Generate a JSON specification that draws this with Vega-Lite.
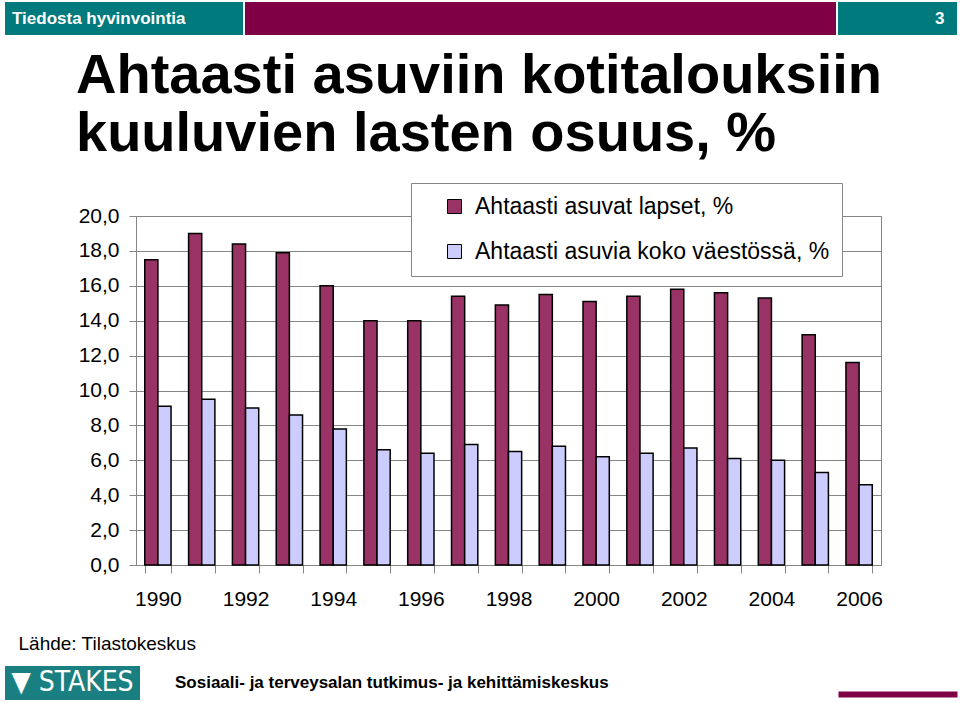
{
  "$schema": "https://vega.github.io/schema/vega-lite/v6.json",
  "background": "white",
  "padding": {"left": 5, "top": 2, "right": 3, "bottom": 2},
  "spacing": 12,
  "config": {
    "font": "Liberation Sans",
    "view": {"stroke": null},
    "concat": {"spacing": 0}
  },
  "vconcat": [
    {
      "spacing": 2,
      "hconcat": [
        {
          "width": 238, "height": 33,
          "view": {"fill": "#007A7D", "stroke": null},
          "data": {"values": [{"t": "Tiedosta hyvinvointia"}]},
          "mark": {"type": "text", "align": "left", "baseline": "middle", "dx": -112, "color": "white", "fontWeight": "bold", "fontSize": 17, "font": "Liberation Sans"},
          "encoding": {"text": {"field": "t"}}
        },
        {
          "width": 591, "height": 33,
          "view": {"fill": "#800046", "stroke": null},
          "data": {"values": [{"t": ""}]},
          "mark": {"type": "text"},
          "encoding": {"text": {"field": "t"}}
        },
        {
          "width": 119, "height": 33,
          "view": {"fill": "#007A7D", "stroke": null},
          "data": {"values": [{"t": "3"}]},
          "mark": {"type": "text", "align": "right", "baseline": "middle", "dx": 47, "color": "white", "fontWeight": "bold", "fontSize": 17, "font": "Liberation Sans"},
          "encoding": {"text": {"field": "t"}}
        }
      ]
    },
    {
      "spacing": 0,
      "hconcat": [
        {
          "width": 12, "height": 1,
          "data": {"values": [{"t": ""}]},
          "mark": {"type": "text"},
          "encoding": {"text": {"field": "t"}}
        },
        {
          "width": 745, "height": 349,
          "view": {"stroke": "#868686", "strokeWidth": 1},
          "title": {
            "text": ["Ahtaasti asuviin kotitalouksiin", "kuuluvien lasten osuus, %"],
            "anchor": "start", "frame": "group", "dx": -60,
            "font": "Liberation Sans", "fontSize": 56, "fontWeight": "bold", "color": "black",
            "lineHeight": 58, "offset": 42
          },
          "data": {"values": [
            {"year": 1990, "series": "Ahtaasti asuvat lapset, %", "value": 17.5},
            {"year": 1991, "series": "Ahtaasti asuvat lapset, %", "value": 19.0},
            {"year": 1992, "series": "Ahtaasti asuvat lapset, %", "value": 18.4},
            {"year": 1993, "series": "Ahtaasti asuvat lapset, %", "value": 17.9},
            {"year": 1994, "series": "Ahtaasti asuvat lapset, %", "value": 16.0},
            {"year": 1995, "series": "Ahtaasti asuvat lapset, %", "value": 14.0},
            {"year": 1996, "series": "Ahtaasti asuvat lapset, %", "value": 14.0},
            {"year": 1997, "series": "Ahtaasti asuvat lapset, %", "value": 15.4},
            {"year": 1998, "series": "Ahtaasti asuvat lapset, %", "value": 14.9},
            {"year": 1999, "series": "Ahtaasti asuvat lapset, %", "value": 15.5},
            {"year": 2000, "series": "Ahtaasti asuvat lapset, %", "value": 15.1},
            {"year": 2001, "series": "Ahtaasti asuvat lapset, %", "value": 15.4},
            {"year": 2002, "series": "Ahtaasti asuvat lapset, %", "value": 15.8},
            {"year": 2003, "series": "Ahtaasti asuvat lapset, %", "value": 15.6},
            {"year": 2004, "series": "Ahtaasti asuvat lapset, %", "value": 15.3},
            {"year": 2005, "series": "Ahtaasti asuvat lapset, %", "value": 13.2},
            {"year": 2006, "series": "Ahtaasti asuvat lapset, %", "value": 11.6},
            {"year": 1990, "series": "Ahtaasti asuvia koko väestössä, %", "value": 9.1},
            {"year": 1991, "series": "Ahtaasti asuvia koko väestössä, %", "value": 9.5},
            {"year": 1992, "series": "Ahtaasti asuvia koko väestössä, %", "value": 9.0},
            {"year": 1993, "series": "Ahtaasti asuvia koko väestössä, %", "value": 8.6},
            {"year": 1994, "series": "Ahtaasti asuvia koko väestössä, %", "value": 7.8},
            {"year": 1995, "series": "Ahtaasti asuvia koko väestössä, %", "value": 6.6},
            {"year": 1996, "series": "Ahtaasti asuvia koko väestössä, %", "value": 6.4},
            {"year": 1997, "series": "Ahtaasti asuvia koko väestössä, %", "value": 6.9},
            {"year": 1998, "series": "Ahtaasti asuvia koko väestössä, %", "value": 6.5},
            {"year": 1999, "series": "Ahtaasti asuvia koko väestössä, %", "value": 6.8},
            {"year": 2000, "series": "Ahtaasti asuvia koko väestössä, %", "value": 6.2},
            {"year": 2001, "series": "Ahtaasti asuvia koko väestössä, %", "value": 6.4},
            {"year": 2002, "series": "Ahtaasti asuvia koko väestössä, %", "value": 6.7},
            {"year": 2003, "series": "Ahtaasti asuvia koko väestössä, %", "value": 6.1},
            {"year": 2004, "series": "Ahtaasti asuvia koko väestössä, %", "value": 6.0},
            {"year": 2005, "series": "Ahtaasti asuvia koko väestössä, %", "value": 5.3},
            {"year": 2006, "series": "Ahtaasti asuvia koko väestössä, %", "value": 4.6}
          ]},
          "mark": {"type": "bar", "stroke": "black", "strokeWidth": 1.5},
          "encoding": {
            "x": {
              "field": "year", "type": "ordinal",
              "scale": {"paddingInner": 0.4, "paddingOuter": 0.2},
              "axis": {
                "title": null, "labelAngle": 0, "grid": false,
                "tickBand": "extent", "tickSize": 8, "tickColor": "#868686",
                "domainColor": "#868686",
                "labelExpr": "datum.value % 2 == 0 ? datum.label : ''",
                "labelFont": "Liberation Sans", "labelFontSize": 21, "labelColor": "black",
                "labelPadding": 15
              }
            },
            "xOffset": {"field": "series", "sort": ["Ahtaasti asuvat lapset, %", "Ahtaasti asuvia koko väestössä, %"]},
            "y": {
              "field": "value", "type": "quantitative",
              "scale": {"domain": [0, 20], "nice": false},
              "axis": {
                "values": [0, 2, 4, 6, 8, 10, 12, 14, 16, 18, 20],
                "labelExpr": "replace(format(datum.value, '.1f'), '.', ',')",
                "labelFont": "Liberation Sans", "labelFontSize": 21, "labelColor": "black",
                "labelPadding": 10, "tickSize": 7, "tickColor": "#868686",
                "domainColor": "#868686", "grid": true, "gridColor": "#868686",
                "title": "Lähde: Tilastokeskus", "titleAngle": 0, "titleX": -118, "titleY": 427,
                "titleAlign": "left", "titleBaseline": "middle",
                "titleFont": "Liberation Sans", "titleFontSize": 19, "titleFontWeight": "normal", "titleColor": "black"
              }
            },
            "color": {
              "field": "series", "type": "nominal",
              "scale": {"domain": ["Ahtaasti asuvat lapset, %", "Ahtaasti asuvia koko väestössä, %"], "range": ["#993366", "#CCCCFF"]},
              "legend": {
                "title": null, "orient": "none", "legendX": 406, "legendY": 181,
                "strokeColor": "#868686", "fillColor": "white", "padding": 12,
                "symbolType": "square", "symbolSize": 196, "symbolStrokeColor": "black", "symbolStrokeWidth": 1,
                "symbolOffset": 20,
                "labelFont": "Liberation Sans", "labelFontSize": 23, "labelColor": "black", "labelOffset": 9,
                "rowPadding": 21, "labelLimit": 500
              }
            }
          }
        }
      ]
    },
    {
      "spacing": 0,
      "hconcat": [
        {
          "width": 135, "height": 34,
          "view": {"fill": "#1A7F80", "stroke": null},
          "data": {"values": [{"t": "▼ STAKES"}]},
          "mark": {"type": "text", "align": "center", "baseline": "middle", "color": "white", "fontSize": 28, "font": "Liberation Sans Narrow, DejaVu Sans Condensed, Liberation Sans"},
          "encoding": {"text": {"field": "t"}}
        },
        {
          "width": 698, "height": 34,
          "data": {"values": [{"t": "Sosiaali- ja terveysalan tutkimus- ja kehittämiskeskus"}]},
          "mark": {"type": "text", "align": "left", "baseline": "middle", "dx": -314, "color": "black", "fontWeight": "bold", "fontSize": 17, "font": "Liberation Sans"},
          "encoding": {"text": {"field": "t"}}
        },
        {
          "width": 119, "height": 28,
          "data": {"values": [{"v": 0.5}]},
          "mark": {"type": "point", "opacity": 0, "size": 1},
          "encoding": {
            "x": {"field": "v", "type": "quantitative", "scale": {"domain": [0, 1]},
              "axis": {"title": null, "labels": false, "ticks": false, "grid": false, "domainColor": "#800046", "domainWidth": 6}}
          }
        }
      ]
    }
  ]
}
